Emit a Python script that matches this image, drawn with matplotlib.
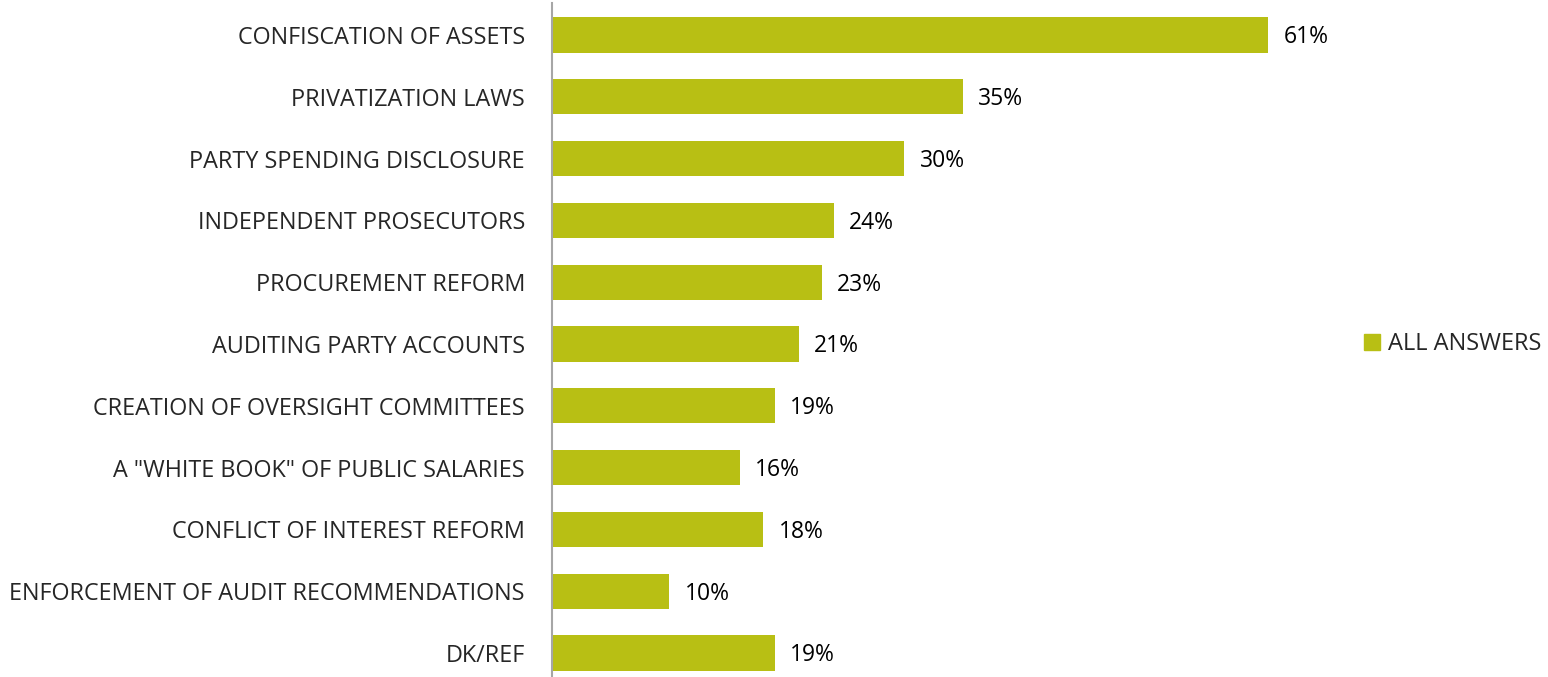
import matplotlib
matplotlib.use("Agg")
import matplotlib.pyplot as plt
from matplotlib.patches import Patch

# survey answers, top to bottom
categories = [
    "CONFISCATION OF ASSETS",
    "PRIVATIZATION LAWS",
    "PARTY SPENDING DISCLOSURE",
    "INDEPENDENT PROSECUTORS",
    "PROCUREMENT REFORM",
    "AUDITING PARTY ACCOUNTS",
    "CREATION OF OVERSIGHT COMMITTEES",
    'A "WHITE BOOK" OF PUBLIC SALARIES',
    "CONFLICT OF INTEREST REFORM",
    "ENFORCEMENT OF AUDIT RECOMMENDATIONS",
    "DK/REF",
]
values = [61, 35, 30, 24, 23, 21, 19, 16, 18, 10, 19]
series_name = "ALL ANSWERS"

bar_color = "#B8BF14"
text_color = "#262626"
plt.rcParams["font.family"] = ["Open Sans", "DejaVu Sans"]

W, H = 1548, 677
fig = plt.figure(figsize=(W / 100, H / 100), dpi=100)
ax = fig.add_axes([552 / W, 0, (1300 - 552) / W, 1 - 3 / H])

pos = list(range(len(categories)))
ax.barh(pos, values, height=0.57, color=bar_color)
ax.set_ylim(10.39, -0.518)
ax.set_xlim(0, 63.7)

for p, v in zip(pos, values):
    ax.text(v + 1.3, p + 0.04, f"{v}%", va="center", ha="left", fontsize=16.5, color="black")

ax.set_yticks(pos)
ax.set_yticklabels(categories, fontsize=16.8, color=text_color)
ax.tick_params(axis="y", length=0, pad=19.5)
ax.set_xticks([])
for s in ["top", "right", "bottom"]:
    ax.spines[s].set_visible(False)
ax.spines["left"].set_color("#A6A6A6")
ax.spines["left"].set_linewidth(1.5)

handles = [Patch(color=bar_color, label=series_name)]
fig.legend(handles=handles, loc="center left", bbox_to_anchor=(1343 / W, 1 - 344 / H),
           frameon=False, fontsize=17, handlelength=0.65, handleheight=0.65,
           handletextpad=0.35, labelcolor=text_color)

fig.savefig("out.png", dpi=100)
